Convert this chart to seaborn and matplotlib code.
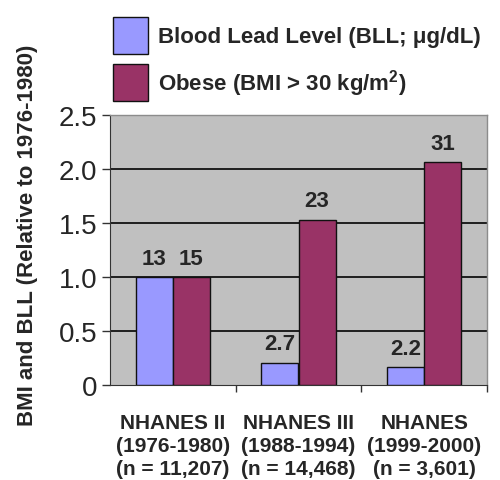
import pandas as pd
import matplotlib.pyplot as plt
import seaborn as sns
from matplotlib.ticker import FixedLocator, FixedFormatter

# Data
surveys = ["NHANES II\n(1976-1980)\n(n = 11,207)",
           "NHANES III\n(1988-1994)\n(n = 14,468)",
           "NHANES\n(1999-2000)\n(n = 3,601)"]
measures = ["Blood Lead Level (BLL; \u03bcg/dL)", r"Obese (BMI > 30 kg/m$^{\mathbf{2}}$)"]
bll_rel = [1.0, 0.21, 0.17]
obese_rel = [1.0, 1.53, 2.06]
bll_labels = ["13", "2.7", "2.2"]
obese_labels = ["15", "23", "31"]
colors = ["#9999FF", "#993366"]

df = pd.DataFrame({
    "survey": surveys * 2,
    "measure": [measures[0]] * 3 + [measures[1]] * 3,
    "value": bll_rel + obese_rel,
})

sns.set_style("white")
plt.rcParams["font.family"] = ["Liberation Sans", "DejaVu Sans"]
plt.rcParams["mathtext.fontset"] = "custom"
plt.rcParams["mathtext.rm"] = "Liberation Sans:bold"
plt.rcParams["mathtext.bf"] = "Liberation Sans:bold"

fig = plt.figure(figsize=(5, 4.81), dpi=100)
ax = fig.add_axes([0.22, 0.197, 0.754, 0.562])
ax.set_facecolor("#C0C0C0")

sns.barplot(data=df, x="survey", y="value", hue="measure", hue_order=measures,
            palette=colors, saturation=1, width=0.59, edgecolor="#111111",
            linewidth=1, ax=ax, zorder=3)

ax.bar_label(ax.containers[0], labels=bll_labels, padding=6,
             fontsize=16, fontweight="bold")
ax.bar_label(ax.containers[1], labels=obese_labels, padding=6,
             fontsize=16, fontweight="bold")

handles, labels = ax.get_legend_handles_labels()
ax.get_legend().remove()
fig.legend(handles, labels, loc="upper left", bbox_to_anchor=(0.19, 1.0),
           frameon=False, prop={"weight": "bold", "size": 16},
           handlelength=1.6, handleheight=2.2, handletextpad=0.45,
           labelspacing=0.45, borderpad=0.3)

ax.set_ylim(0, 2.5)
ax.set_xlim(-0.5, 2.5)
yt = [0, 0.5, 1.0, 1.5, 2.0, 2.5]
ax.yaxis.set_major_locator(FixedLocator(yt))
ax.yaxis.set_major_formatter(FixedFormatter(["0", "0.5", "1.0", "1.5", "2.0", "2.5"]))
ax.tick_params(axis="y", labelsize=20, length=6, width=1, direction="out",
               left=True, color="#333333", pad=3)
for y in yt[1:-1]:
    ax.axhline(y, color="#111111", lw=1.3, zorder=1)

ax.set_xticks([0, 1, 2])
ax.set_xticklabels(surveys, fontsize=15, fontweight="bold", linespacing=1.25)
ax.set_xticks([0.5, 1.5, 2.5], minor=True)
ax.tick_params(axis="x", which="major", length=0, pad=20)
ax.tick_params(axis="x", which="minor", length=5, width=1, direction="out",
               bottom=True, color="#333333")

ax.set_xlabel("")
ax.set_ylabel("BMI and BLL (Relative to 1976-1980)", fontsize=16,
              fontweight="bold")
ax.yaxis.set_label_coords(-0.19, 0.56)

for side in ["top", "right"]:
    ax.spines[side].set_color("#8C8C8C")
    ax.spines[side].set_linewidth(1)
ax.spines["left"].set_color("#333333")
ax.spines["bottom"].set_color("#333333")

plt.savefig("out.png", dpi=100)
